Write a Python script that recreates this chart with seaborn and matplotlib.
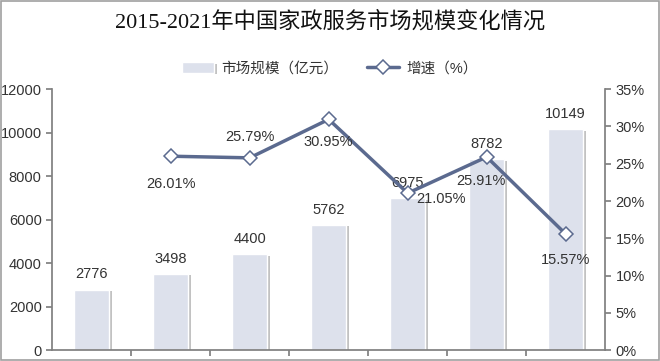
import matplotlib
matplotlib.use("Agg")
import matplotlib.pyplot as plt
import matplotlib.patheffects as pe
import seaborn as sns
import pandas as pd

years = ["2015", "2016", "2017", "2018", "2019", "2020", "2021"]
market_size = [2776, 3498, 4400, 5762, 6975, 8782, 10149]
growth_years = ["2016", "2017", "2018", "2019", "2020", "2021"]
growth_rate = [26.01, 25.79, 30.95, 21.05, 25.91, 15.57]
# label offsets for the growth labels (points)
growth_offsets = [(0, -20), (0, 15), (0, -16), (24, -4), (-4, -17), (0, -19)]

sns.set_theme(style="white")
plt.rcParams["font.family"] = ["Liberation Sans", "Noto Sans CJK SC", "DejaVu Sans"]

bar_color = "#dde1ec"
line_color = "#5b6a8f"
text_color = "#333333"

df_bar = pd.DataFrame({"year": years, "size": market_size})
df_line = pd.DataFrame({"year": growth_years, "rate": growth_rate})
df_line["pos"] = [years.index(y) for y in growth_years]

fig = plt.figure(figsize=(6.6, 3.61), dpi=100)
ax = fig.add_axes([0.079, 0.03, 0.838, 0.723])

sns.barplot(data=df_bar, x="year", y="size", color=bar_color, width=0.45,
            saturation=1, ax=ax, label="市场规模（亿元）")
for p in ax.patches:
    p.set_path_effects([pe.SimplePatchShadow(offset=(2, -1), shadow_rgbFace="#9a9a9a", alpha=0.6),
                        pe.Normal()])
for i, v in enumerate(market_size):
    ax.annotate(str(v), (i, v), xytext=(0, 6), textcoords="offset points",
                ha="center", va="bottom", fontsize=10.5, color=text_color)

ax.set_ylim(0, 12000)
ax.set_yticks(range(0, 12001, 2000))
ax.set_xlim(-0.5, len(years) - 0.5)
ax.set_xlabel("")
ax.set_ylabel("")
ax.set_xticks([i + 0.5 for i in range(len(years) - 1)])
ax.set_xticklabels([])
ax.tick_params(axis="x", length=4, color="#808080", direction="out", bottom=True)
ax.tick_params(axis="y", length=4, color="#808080", left=True, labelsize=10.5,
               labelcolor=text_color)
for s in ["top", "right"]:
    ax.spines[s].set_visible(False)
for s in ["left", "bottom"]:
    ax.spines[s].set_color("#808080")

ax2 = ax.twinx()
sns.lineplot(data=df_line, x="pos", y="rate", color=line_color, linewidth=2.5,
             marker="D", markersize=7, markerfacecolor="white",
             markeredgecolor=line_color, markeredgewidth=1.1, ax=ax2,
             label="增速（%）")
for x, v, off in zip(df_line["pos"], growth_rate, growth_offsets):
    ax2.annotate(f"{v:.2f}%", (x, v), xytext=off, textcoords="offset points",
                 ha="center", va="center", fontsize=10.5, color=text_color)
ax2.set_ylim(0, 35)
ax2.set_yticks(range(0, 36, 5))
ax2.set_yticklabels([f"{t}%" for t in range(0, 36, 5)])
ax2.set_ylabel("")
ax2.set_xlabel("")
ax2.set_xlim(-0.5, len(years) - 0.5)
ax2.tick_params(axis="y", length=4, color="#808080", right=True, labelsize=10.5,
                labelcolor=text_color)
for s in ["top", "left", "bottom"]:
    ax2.spines[s].set_visible(False)
ax2.spines["right"].set_color("#808080")

h1, l1 = ax.get_legend_handles_labels()
h2, l2 = ax2.get_legend_handles_labels()
ax2.get_legend().remove()
if ax.get_legend():
    ax.get_legend().remove()
fig.legend(h1 + h2, l1 + l2, loc="center", bbox_to_anchor=(0.5, 0.81), ncol=2,
           frameon=False, fontsize=10.5, labelcolor=text_color,
           handlelength=2.2, handletextpad=0.5, columnspacing=2)

fig.suptitle("2015-2021年中国家政服务市场规模变化情况", x=0.5, y=0.97,
             fontsize=16, color="#111111",
             family=["Liberation Serif", "Noto Sans CJK SC"])

border = plt.Rectangle((0.002, 0.003), 0.996, 0.994, transform=fig.transFigure,
                       fill=False, edgecolor="#a0a0a0", linewidth=1.2)
fig.patches.append(border)

fig.savefig("out.png", dpi=100)
